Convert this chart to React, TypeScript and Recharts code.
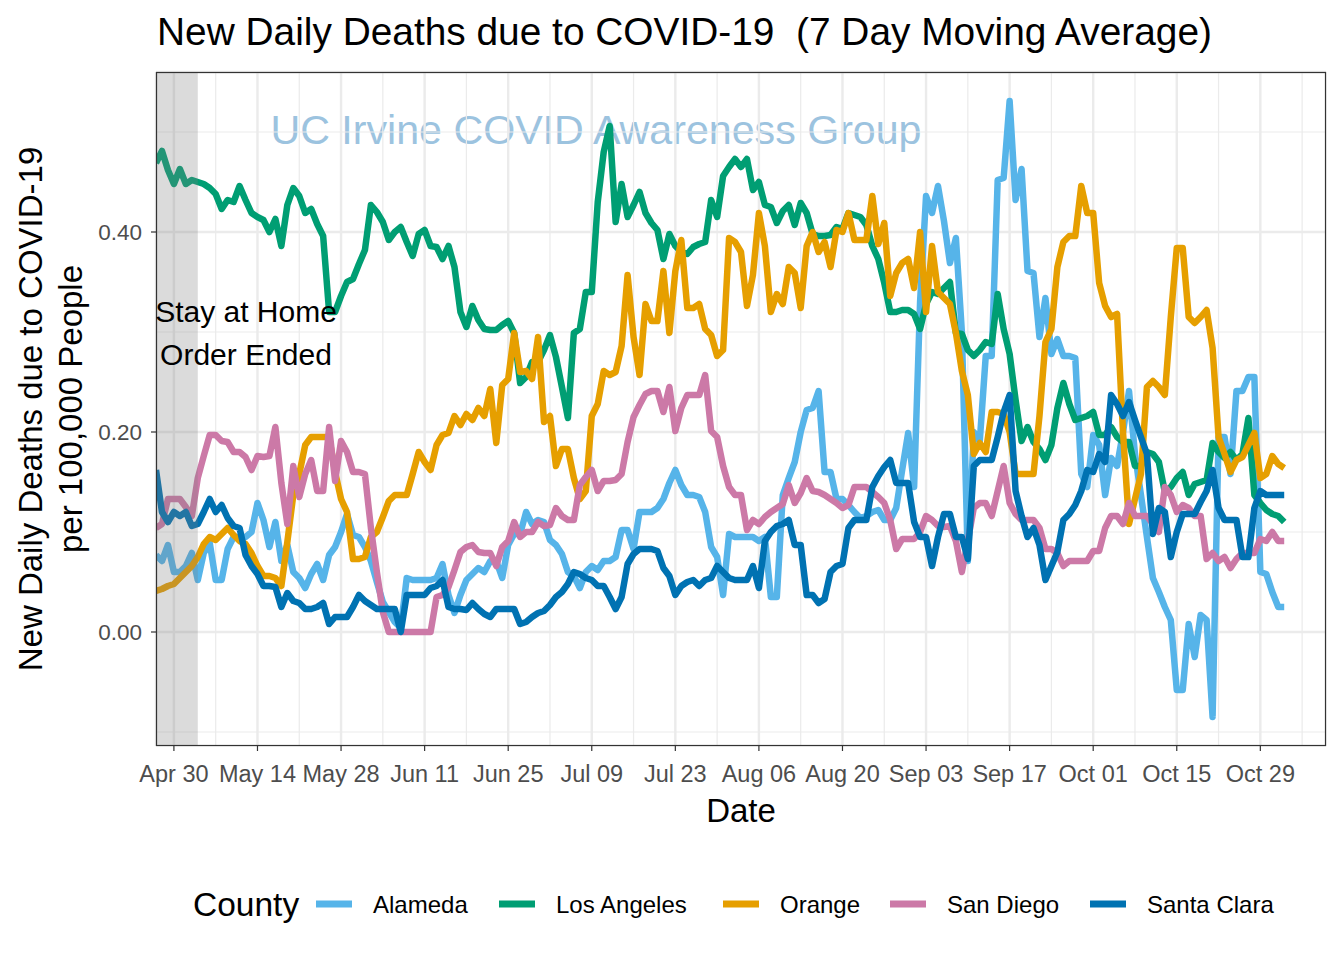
import React from 'react'
import { LineChart, Line, XAxis, YAxis, CartesianGrid, ReferenceArea } from 'recharts'

const FONT = '"Liberation Sans", Arial, Helvetica, sans-serif'

// x is the day number counted from Apr 27
const TICK_DAYS = [3, 17, 31, 45, 59, 73, 87, 101, 115, 129, 143, 157, 171, 185]
const TICK_LABELS = ['Apr 30', 'May 14', 'May 28', 'Jun 11', 'Jun 25', 'Jul 09', 'Jul 23', 'Aug 06', 'Aug 20', 'Sep 03', 'Sep 17', 'Oct 01', 'Oct 15', 'Oct 29']
const MINOR_DAYS = [10, 24, 38, 52, 66, 80, 94, 108, 122, 136, 150, 164, 178, 192]
const Y_TICKS = [0, 0.2, 0.4]
const Y_MINOR = [-0.1, 0.1, 0.3, 0.5]
const ORDER_END_DAY = 7

const COUNTIES = ['Alameda', 'Los Angeles', 'Orange', 'San Diego', 'Santa Clara']
const COLORS = ['#56B4E9', '#009E73', '#E69F00', '#CC79A7', '#0072B2']

const ALAMEDA = [
  0.077, 0.071, 0.087, 0.06, 0.06, 0.066, 0.079, 0.052, 0.079, 0.089,
  0.052, 0.052, 0.083, 0.095, 0.095, 0.095, 0.1, 0.129, 0.112, 0.085,
  0.11, 0.071, 0.087, 0.06, 0.054, 0.044, 0.058, 0.068, 0.052, 0.077,
  0.085, 0.1, 0.118, 0.097, 0.095, 0.085, 0.071, 0.05, 0.03, 0.02,
  0.01, 0.004, 0.054, 0.052, 0.052, 0.052, 0.052, 0.054, 0.068, 0.037,
  0.019, 0.037, 0.052, 0.058, 0.064, 0.06, 0.071, 0.071, 0.054, 0.087,
  0.098, 0.098, 0.12, 0.108, 0.112, 0.11, 0.092, 0.087, 0.078, 0.06,
  0.056, 0.044, 0.06, 0.066, 0.062, 0.071, 0.071, 0.075, 0.102, 0.102,
  0.083, 0.12, 0.12, 0.12, 0.124, 0.133, 0.149, 0.162, 0.147, 0.137,
  0.137, 0.135, 0.12, 0.085, 0.075, 0.037, 0.098, 0.095, 0.095, 0.095,
  0.095, 0.091, 0.095, 0.035, 0.035, 0.137, 0.154, 0.17, 0.2, 0.222,
  0.224, 0.241, 0.16, 0.16, 0.133, 0.133, 0.127, 0.12, 0.114, 0.116,
  0.12, 0.122, 0.112, 0.112, 0.124, 0.162, 0.199, 0.145, 0.33, 0.436,
  0.419, 0.446, 0.411, 0.369, 0.394, 0.3, 0.071, 0.2, 0.191, 0.276,
  0.276, 0.452, 0.454, 0.531, 0.432, 0.463, 0.361, 0.359, 0.295, 0.334,
  0.278, 0.293, 0.276, 0.276, 0.274, 0.158, 0.145, 0.197, 0.187, 0.137,
  0.174, 0.166, 0.2, 0.241, 0.178, 0.137, 0.095, 0.054, 0.04, 0.025,
  0.012, -0.058, -0.058, 0.008, -0.025, 0.017, 0.012, -0.085, 0.195, 0.195,
  0.158, 0.241, 0.241, 0.255, 0.255, 0.06, 0.058, 0.04, 0.025, 0.025,
]

const LOS_ANGELES = [
  0.469, 0.481, 0.462, 0.448, 0.463, 0.448, 0.452, 0.45, 0.448, 0.444,
  0.438, 0.423, 0.432, 0.43, 0.446, 0.432, 0.419, 0.415, 0.412, 0.4,
  0.413, 0.386, 0.427, 0.444, 0.436, 0.419, 0.423, 0.408, 0.396, 0.32,
  0.32, 0.336, 0.35, 0.353, 0.368, 0.382, 0.427, 0.42, 0.41, 0.392,
  0.4, 0.405, 0.39, 0.376, 0.398, 0.402, 0.386, 0.385, 0.373, 0.386,
  0.365, 0.32, 0.305, 0.326, 0.312, 0.303, 0.302, 0.302, 0.307, 0.311,
  0.299, 0.249, 0.255, 0.27, 0.27, 0.282, 0.297, 0.275, 0.245, 0.214,
  0.299, 0.303, 0.34, 0.34, 0.43, 0.48, 0.506, 0.41, 0.448, 0.415,
  0.427, 0.44, 0.419, 0.409, 0.402, 0.373, 0.398, 0.386, 0.38, 0.378,
  0.385, 0.388, 0.39, 0.432, 0.415, 0.456, 0.465, 0.473, 0.465, 0.473,
  0.442, 0.45, 0.427, 0.425, 0.409, 0.421, 0.427, 0.407, 0.429, 0.419,
  0.398, 0.396, 0.396, 0.397, 0.405, 0.403, 0.419, 0.417, 0.415, 0.407,
  0.386, 0.373, 0.349, 0.32, 0.32, 0.322, 0.322, 0.318, 0.303, 0.328,
  0.34, 0.338, 0.344, 0.35, 0.299, 0.298, 0.282, 0.276, 0.282, 0.29,
  0.288, 0.338, 0.303, 0.278, 0.232, 0.191, 0.205, 0.19, 0.183, 0.172,
  0.187, 0.224, 0.249, 0.228, 0.212, 0.214, 0.216, 0.22, 0.197, 0.197,
  0.205, 0.195, 0.19, 0.19, 0.166, 0.166, 0.18, 0.178, 0.17, 0.14,
  0.145, 0.154, 0.16, 0.137, 0.148, 0.15, 0.152, 0.189, 0.18, 0.174,
  0.18, 0.172, 0.178, 0.214, 0.137, 0.129, 0.122, 0.118, 0.116, 0.11,
]

const ORANGE = [
  0.041, 0.043, 0.046, 0.048, 0.054, 0.06, 0.066, 0.075, 0.088, 0.095,
  0.092, 0.098, 0.104, 0.097, 0.091, 0.088, 0.079, 0.066, 0.056, 0.056,
  0.054, 0.046, 0.09, 0.137, 0.158, 0.187, 0.195, 0.195, 0.195, 0.195,
  0.16, 0.133, 0.12, 0.073, 0.073, 0.075, 0.095, 0.1, 0.115, 0.131,
  0.137, 0.137, 0.137, 0.158, 0.18, 0.17, 0.162, 0.187, 0.197, 0.199,
  0.216, 0.207, 0.218, 0.212, 0.224, 0.216, 0.243, 0.189, 0.247, 0.253,
  0.299, 0.26, 0.261, 0.253, 0.295, 0.21, 0.216, 0.166, 0.183, 0.183,
  0.154, 0.133, 0.141, 0.216, 0.228, 0.261, 0.257, 0.26, 0.286, 0.357,
  0.295, 0.257, 0.328, 0.311, 0.311, 0.361, 0.299, 0.361, 0.392, 0.324,
  0.324, 0.328, 0.303, 0.297, 0.276, 0.282, 0.394, 0.39, 0.38, 0.326,
  0.357, 0.419, 0.386, 0.32, 0.338, 0.328, 0.365, 0.359, 0.324, 0.386,
  0.4, 0.38, 0.39, 0.365, 0.402, 0.4, 0.419, 0.392, 0.392, 0.392,
  0.436, 0.388, 0.409, 0.336, 0.359, 0.369, 0.373, 0.344, 0.4, 0.32,
  0.386, 0.34, 0.334, 0.328, 0.299, 0.261, 0.237, 0.178, 0.189, 0.18,
  0.22, 0.22, 0.218, 0.2, 0.158, 0.158, 0.158, 0.158, 0.216, 0.29,
  0.303, 0.365, 0.39, 0.396, 0.396, 0.446, 0.419, 0.419, 0.349, 0.326,
  0.315, 0.318, 0.199, 0.108, 0.133, 0.158, 0.245, 0.251, 0.245, 0.237,
  0.315, 0.384, 0.384, 0.315, 0.309, 0.315, 0.322, 0.284, 0.195, 0.178,
  0.16, 0.172, 0.175, 0.187, 0.199, 0.154, 0.158, 0.176, 0.168, 0.164,
]

const SAN_DIEGO = [
  0.104, 0.108, 0.133, 0.133, 0.133, 0.125, 0.116, 0.154, 0.176, 0.197,
  0.197, 0.191, 0.19, 0.18, 0.18, 0.175, 0.162, 0.176, 0.175, 0.176,
  0.205, 0.149, 0.108, 0.166, 0.135, 0.158, 0.172, 0.141, 0.141, 0.205,
  0.151, 0.191, 0.18, 0.16, 0.16, 0.158, 0.104, 0.06, 0.02, 0,
  0, 0, 0, 0, 0, 0, 0, 0.035, 0.037, 0.045,
  0.062, 0.08, 0.085, 0.087, 0.08, 0.079, 0.079, 0.066, 0.085, 0.091,
  0.11, 0.095, 0.1, 0.1, 0.11, 0.106, 0.107, 0.124, 0.116, 0.112,
  0.112, 0.147, 0.155, 0.162, 0.141, 0.151, 0.151, 0.152, 0.158, 0.19,
  0.215, 0.227, 0.238, 0.241, 0.241, 0.22, 0.245, 0.201, 0.224, 0.237,
  0.237, 0.237, 0.257, 0.201, 0.195, 0.166, 0.145, 0.137, 0.137, 0.102,
  0.112, 0.108, 0.115, 0.12, 0.124, 0.128, 0.147, 0.129, 0.139, 0.154,
  0.141, 0.14, 0.137, 0.133, 0.129, 0.124, 0.127, 0.145, 0.145, 0.145,
  0.14, 0.135, 0.129, 0.112, 0.083, 0.093, 0.093, 0.093, 0.1, 0.116,
  0.112, 0.106, 0.105, 0.106, 0.091, 0.06, 0.091, 0.124, 0.129, 0.129,
  0.116, 0.141, 0.166, 0.129, 0.118, 0.112, 0.112, 0.112, 0.104, 0.083,
  0.083, 0.079, 0.066, 0.071, 0.071, 0.071, 0.071, 0.081, 0.081, 0.104,
  0.116, 0.116, 0.108, 0.129, 0.116, 0.116, 0.116, 0.108, 0.1, 0.145,
  0.137, 0.12, 0.127, 0.124, 0.116, 0.116, 0.073, 0.079, 0.071, 0.075,
  0.064, 0.073, 0.079, 0.079, 0.079, 0.093, 0.091, 0.1, 0.091, 0.091,
]

const SANTA_CLARA = [
  0.162, 0.12, 0.11, 0.12, 0.116, 0.12, 0.106, 0.108, 0.12, 0.133,
  0.12, 0.127, 0.114, 0.106, 0.104, 0.077, 0.066, 0.058, 0.046, 0.046,
  0.045, 0.025, 0.039, 0.031, 0.029, 0.023, 0.023, 0.025, 0.029, 0.008,
  0.015, 0.015, 0.015, 0.025, 0.037, 0.031, 0.027, 0.023, 0.023, 0.023,
  0.023, 0, 0.037, 0.037, 0.037, 0.037, 0.044, 0.046, 0.052, 0.025,
  0.023, 0.023, 0.022, 0.029, 0.023, 0.018, 0.015, 0.023, 0.023, 0.023,
  0.023, 0.008, 0.01, 0.015, 0.019, 0.021, 0.027, 0.035, 0.04, 0.048,
  0.06, 0.058, 0.054, 0.052, 0.046, 0.046, 0.035, 0.023, 0.035, 0.068,
  0.078, 0.083, 0.083, 0.083, 0.081, 0.064, 0.056, 0.037, 0.046, 0.05,
  0.052, 0.046, 0.052, 0.054, 0.066, 0.06, 0.054, 0.052, 0.052, 0.052,
  0.066, 0.044, 0.091, 0.1, 0.106, 0.108, 0.112, 0.087, 0.087, 0.037,
  0.037, 0.029, 0.033, 0.06, 0.066, 0.068, 0.104, 0.112, 0.112, 0.112,
  0.145, 0.156, 0.165, 0.172, 0.149, 0.149, 0.149, 0.11, 0.095, 0.095,
  0.066, 0.095, 0.118, 0.118, 0.095, 0.095, 0.073, 0.166, 0.172, 0.172,
  0.172, 0.195, 0.22, 0.237, 0.141, 0.116, 0.095, 0.104, 0.087, 0.052,
  0.066, 0.08, 0.112, 0.118, 0.127, 0.141, 0.162, 0.16, 0.178, 0.17,
  0.237, 0.228, 0.216, 0.23, 0.212, 0.195, 0.178, 0.098, 0.124, 0.12,
  0.075, 0.1, 0.118, 0.118, 0.118, 0.13, 0.141, 0.162, 0.124, 0.112,
  0.112, 0.112, 0.075, 0.075, 0.124, 0.141, 0.137, 0.137, 0.137, 0.137,
]

const SERIES = [ALAMEDA, LOS_ANGELES, ORANGE, SAN_DIEGO, SANTA_CLARA]
const KEYS = ['alameda', 'losAngeles', 'orange', 'sanDiego', 'santaClara']

const rows = ALAMEDA.map((_, day) => {
  const row: Record<string, number> = { day }
  KEYS.forEach((k, s) => (row[k] = SERIES[s][day]))
  return row
})

const X_GRID = [...TICK_DAYS, ...MINOR_DAYS].sort((a, b) => a - b)
const Y_GRID = [...Y_TICKS, ...Y_MINOR].sort((a, b) => a - b)
const X_DOMAIN = [0, 196]
const Y_DOMAIN = [-0.114, 0.56]

function XTick({ x, y, payload }: any) {
  const i = TICK_DAYS.indexOf(payload.value)
  if (i < 0) return <g />
  return (
    <g>
      <line x1={x} x2={x} y1={y} y2={y + 5} stroke="#333" strokeWidth={1.2} />
      <text x={x} y={y + 36} textAnchor="middle" fontSize={23.5} fill="#4d4d4d" fontFamily={FONT}>
        {TICK_LABELS[i]}
      </text>
    </g>
  )
}

function YTick({ x, y, payload }: any) {
  if (!Y_TICKS.includes(payload.value)) return <g />
  return (
    <g>
      <line x1={x - 5} x2={x} y1={y} y2={y} stroke="#333" strokeWidth={1.2} />
      <text x={x - 14} y={y} dy="0.36em" textAnchor="end" fontSize={22.5} fill="#4d4d4d" fontFamily={FONT}>
        {payload.value.toFixed(2)}
      </text>
    </g>
  )
}

const hLine = (p: any) => (
  <line key={p.key} x1={p.x1} y1={p.y1} x2={p.x2} y2={p.y2} stroke="#ebebeb" strokeWidth={p.index % 2 === 1 ? 2.4 : 1.2} />
)
const vLine = (p: any) => (
  <line key={p.key} x1={p.x1} y1={p.y1} x2={p.x2} y2={p.y2} stroke="#ebebeb" strokeWidth={p.index % 2 === 0 ? 2.4 : 1.2} />
)

const LEGEND_KEY_X = [316, 499, 723, 890, 1090]

export default function App() {
  return (
    <div style={{ position: 'absolute', left: 0, top: 0, width: 1344, height: 960, background: '#fff', fontFamily: FONT }}>
      <svg width={1344} height={960} style={{ position: 'absolute', left: 0, top: 0 }}>
        <text x={596} y={144} textAnchor="middle" fontSize={41} fill="#9cc3df" fontFamily={FONT} textLength={651} lengthAdjust="spacingAndGlyphs">
          UC Irvine COVID Awareness Group
        </text>
      </svg>
      <div style={{ position: 'absolute', left: 0, top: 0 }}>
        <LineChart width={1344} height={960} data={rows} margin={{ top: 72, right: 18, left: 0, bottom: 0 }}>
          <CartesianGrid horizontal={hLine} vertical={vLine} />
          <XAxis
            dataKey="day"
            type="number"
            domain={X_DOMAIN}
            ticks={X_GRID}
            interval={0}
            allowDataOverflow
            height={214}
            tickSize={0}
            tickMargin={0}
            tickLine={false}
            axisLine={false}
            tick={<XTick />}
          />
          <YAxis
            type="number"
            domain={Y_DOMAIN}
            ticks={Y_GRID}
            interval={0}
            allowDataOverflow
            width={156}
            tickSize={0}
            tickMargin={0}
            tickLine={false}
            axisLine={false}
            tick={<YTick />}
          />
          {KEYS.map((k, s) => (
            <Line
              key={k}
              type="linear"
              dataKey={k}
              name={COUNTIES[s]}
              stroke={COLORS[s]}
              strokeWidth={6.5}
              strokeLinejoin="round"
              dot={false}
              isAnimationActive={false}
            />
          ))}
          <ReferenceArea
            x1={X_DOMAIN[0]}
            x2={ORDER_END_DAY}
            y1={Y_DOMAIN[0]}
            y2={Y_DOMAIN[1]}
            fill="#7f7f7f"
            fillOpacity={0.28}
            stroke="none"
            zIndex={450}
          />
        </LineChart>
      </div>
      <svg width={1344} height={960} style={{ position: 'absolute', left: 0, top: 0, pointerEvents: 'none' }} fontFamily={FONT}>
        <rect x={156.5} y={72.5} width={1169} height={673} fill="none" stroke="#333" strokeWidth={1.2} />
        <text x={157} y={45} fontSize={39} fill="#000" style={{ whiteSpace: 'pre' }} textLength={1055} lengthAdjust="spacingAndGlyphs">
          {'New Daily Deaths due to COVID-19  (7 Day Moving Average)'}
        </text>
        <text x={246} y={322} textAnchor="middle" fontSize={30} fill="#000">Stay at Home</text>
        <text x={246} y={365} textAnchor="middle" fontSize={30} fill="#000">Order Ended</text>
        <text transform="translate(42,409) rotate(-90)" textAnchor="middle" fontSize={33} fill="#000">
          New Daily Deaths due to COVID-19
        </text>
        <text transform="translate(82,409) rotate(-90)" textAnchor="middle" fontSize={33} fill="#000">
          per 100,000 People
        </text>
        <text x={741} y={822} textAnchor="middle" fontSize={33} fill="#000">Date</text>
        <text x={193} y={916} fontSize={33.5} fill="#000">County</text>
        {COUNTIES.map((c, s) => (
          <g key={c}>
            <line x1={LEGEND_KEY_X[s]} x2={LEGEND_KEY_X[s] + 36} y1={904} y2={904} stroke={COLORS[s]} strokeWidth={7} />
            <text x={LEGEND_KEY_X[s] + 57} y={913} fontSize={24} fill="#000">{c}</text>
          </g>
        ))}
      </svg>
    </div>
  )
}
